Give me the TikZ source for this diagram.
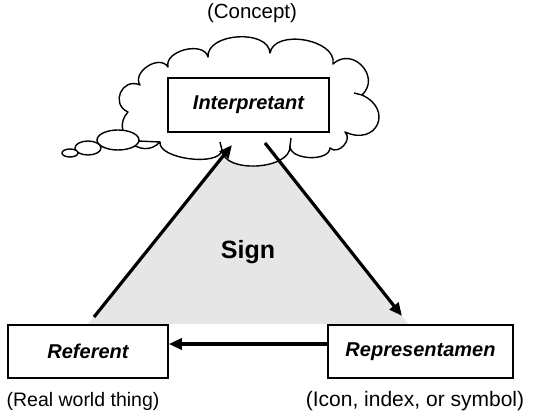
\documentclass[tikz,border=0pt]{standalone}
\usepackage{fontspec}
\setmainfont{Liberation Sans}
\usetikzlibrary{arrows.meta}
\definecolor{signgray}{HTML}{E6E6E6}
\begin{document}
\begin{tikzpicture}[x=1pt,y=-1pt,
  box/.style={draw,line width=1.6pt,fill=white,inner sep=0pt,
    font=\bfseries\itshape\fontsize{20}{24}\selectfont},
  conn/.style={line width=3.2pt,-{Triangle[length=13pt,width=11pt]}},
  cloudline/.style={line width=1.4pt,fill=white,line join=round},
  lobe/.style={bend left=90,looseness=#1},
  caption/.style={font=\fontsize{19.5}{23}\selectfont}]
\useasboundingbox (0,0) rectangle (534,419);

% shaded sign triangle behind everything
\fill[signgray] (88,324) -- (248,121) -- (408,324) -- cycle;

% thought cloud around the interpretant, one lobe per segment
\draw[cloudline] (160,142)
  to[lobe=1.6] (128,112)
  to[lobe=1.7] (140,85)
  to[lobe=1.2] (168,67)
  to[lobe=1.05] (208,57)
  to[lobe=1.0] (270,53)
  to[lobe=1.0] (333,64)
  to[lobe=1.6] (362,95)
  to[lobe=2.2] (345,132)
  to[lobe=1.3] (330,148)
  to[lobe=0.9] (290,146)
  to[lobe=0.9] (222,150)
  to[lobe=0.7] (160,142) -- cycle;

% small inner strokes where lobes meet
\draw[line width=1.4pt] (222,150) -- (220,142);
\draw[line width=1.4pt] (290,146) -- (291,138);
\draw[line width=1.4pt] (362,95) -- (354,93);

% thought bubbles trailing off to the left
\draw[line width=1.4pt] (138,141) -- (160,142);
\draw[cloudline] (118,140) ellipse [x radius=21pt, y radius=10pt];
\draw[cloudline] (88,148) ellipse [x radius=13pt, y radius=7pt];
\draw[cloudline] (70,153) ellipse [x radius=8pt, y radius=4pt];

% the three corners
\node[box,minimum width=161pt,minimum height=54pt] (interp) at (248.5,105) {Interpretant};
\node[box,minimum width=160pt,minimum height=53pt] (ref) at (88,351.5) {Referent};
\node[box,minimum width=185pt,minimum height=53pt] (rep) at (420.5,351.5) {Representamen};

% arrow end points at the cloud's lower edge
\coordinate (refout) at (94,317);
\coordinate (interpin) at (232,145);
\coordinate (interpout) at (265,143);
\coordinate (repin) at (402,316);

\draw[conn] (refout) -- (interpin);
\draw[conn] (interpout) -- (repin);
\draw[conn] (rep.west |- 0,344) -- (ref.east |- 0,344);

% labels
\node[font=\bfseries\fontsize{25}{30}\selectfont] (sign) at (248,252) {Sign};
\node[font=\fontsize{20.5}{24}\selectfont] (concept) at (252,13) {(Concept)};
\node[caption] (realcap) at (83,401) {(Real world thing)};
\node[font=\fontsize{21}{25}\selectfont] (iconcap) at (415,401) {(Icon, index, or symbol)};
\end{tikzpicture}
\end{document}
